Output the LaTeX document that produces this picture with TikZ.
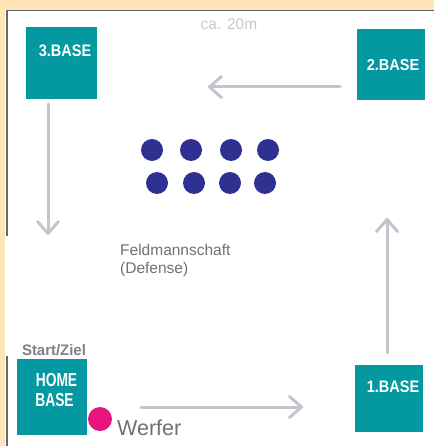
\documentclass[tikz,border=0pt]{standalone}
\usepackage{fontspec}
\setmainfont{Liberation Sans}
\usetikzlibrary{arrows.meta}
\definecolor{peach}{RGB}{255,228,184}
\definecolor{frameline}{RGB}{96,104,112}
\definecolor{teal}{RGB}{4,152,160}
\definecolor{navy}{RGB}{46,49,146}
\definecolor{pinkdot}{RGB}{230,20,125}
\definecolor{arrowgray}{RGB}{196,196,206}
\definecolor{textgray}{RGB}{112,112,118}
\definecolor{startgray}{RGB}{128,128,132}
\definecolor{lightgray}{RGB}{200,200,208}
\tikzset{
  base/.style={fill=teal, draw=none, inner sep=0pt},
  baselabel/.style={text=white, font=\fontsize{14.5}{16}\selectfont\bfseries, inner sep=0pt, align=center},
  player/.style={circle, fill=navy, draw=none, minimum size=22pt, inner sep=0pt},
  runarrow/.style={draw=arrowgray, line width=3pt, line cap=round,
    -{Straight Barb[length=12pt,width=21pt,line cap=round,round]}},
  frame/.style={draw=frameline, line width=1.5pt}
}
\begin{document}
\begin{tikzpicture}[x=1pt,y=-1pt]
\useasboundingbox (0,0) rectangle (434,446);
\fill[peach] (0,0) rectangle (434,446);
\fill[white] (5,10) rectangle (434,446);
\draw[frame] (6,10.75) -- (434,10.75);
\draw[frame] (6.75,10) -- (6.75,236);
\draw[frame] (6.75,356) -- (6.75,446);

% bases
\node[base, minimum width=71pt, minimum height=72pt] (b3) at (61.5,63) {};
\node[baselabel] (b3l) at (65,51) {\scalebox{1}[1.15]{3.BASE}};
\node[base, minimum width=68pt, minimum height=71pt] (b2) at (391,65) {};
\node[baselabel] (b2l) at (393,65) {\scalebox{1}[1.1]{2.BASE}};
\node[base, minimum width=70pt, minimum height=76pt] (hb) at (52,397) {};
\node[baselabel] (hbl1) at (56.5,380) {\scalebox{0.95}[1.3]{HOME}};
\node[baselabel] (hbl2) at (54.5,400) {\scalebox{0.95}[1.3]{BASE}};
\node[base, minimum width=68pt, minimum height=67pt] (b1) at (389,398.5) {};
\node[baselabel] (b1l) at (393,387) {\scalebox{1}[1.15]{1.BASE}};

% labels
\node[text=lightgray, font=\fontsize{15.5}{18}\selectfont, inner sep=0pt] (dist) at (229,24) {ca. 20m};
\node[text=startgray, font=\fontsize{14.5}{16}\selectfont\bfseries, inner sep=0pt] (start) at (54,350) {\scalebox{1.03}[1.05]{Start/Ziel}};
\node[text=textgray, font=\fontsize{15.5}{18}\selectfont, inner sep=0pt, align=left, anchor=north west] (feld) at (120,244) {Feldmannschaft\\(Defense)};
\node[text=textgray, font=\fontsize{21.5}{24}\selectfont, inner sep=0pt, anchor=west] (werfer) at (117,428) {Werfer};

% pitcher
\node[circle, fill=pinkdot, minimum size=24pt, inner sep=0pt] (pitcher) at (100,419) {};

% fielders
\foreach \x [count=\i] in {152,191,231,268} {\node[player] (p\i) at (\x,150) {};}
\foreach \x [count=\i from 5] in {157,194,230,265} {\node[player] (p\i) at (\x,183) {};}

% run path
\coordinate (a1s) at (141,407); \coordinate (a1e) at (303,407);
\coordinate (a2s) at (387,353); \coordinate (a2e) at (387,218);
\coordinate (a3s) at (340,87);  \coordinate (a3e) at (208,87);
\coordinate (a4s) at (48,104);  \coordinate (a4e) at (48,235);
\draw[runarrow] (a1s) -- (a1e);
\draw[runarrow] (a2s) -- (a2e);
\draw[runarrow] (a3s) -- (a3e);
\draw[runarrow] (a4s) -- (a4e);
\end{tikzpicture}
\end{document}
